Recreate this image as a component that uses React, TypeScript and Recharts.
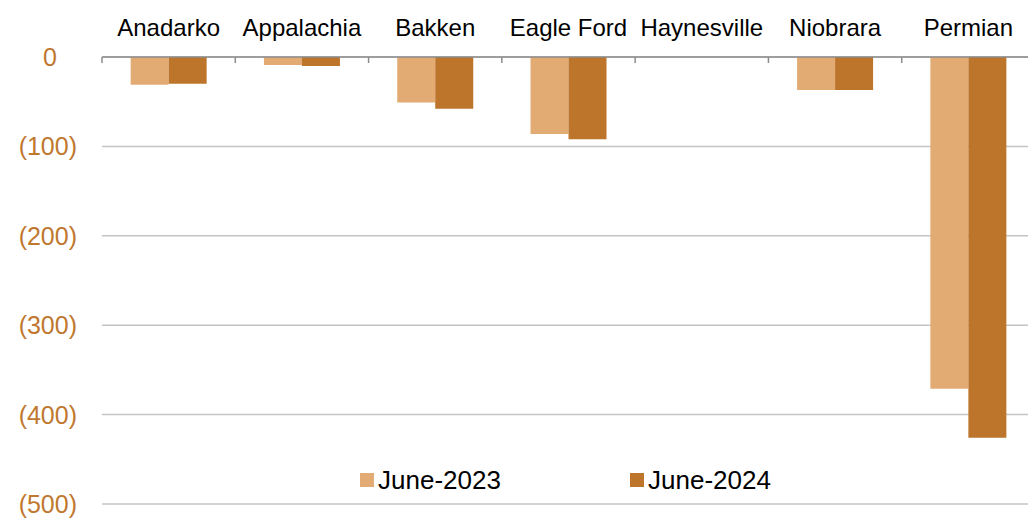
import { Bar, BarChart, CartesianGrid, XAxis, YAxis } from "recharts";

const basins = ["Anadarko", "Appalachia", "Bakken", "Eagle Ford", "Haynesville", "Niobrara", "Permian"];
const june2023 = [-31, -9, -51, -86, 0, -37, -371];
const june2024 = [-30, -10, -58, -92, 0, -37, -426];
const yTicks = [0, -100, -200, -300, -400, -500];

const LIGHT = "#E2AB74";
const DARK = "#BD742B";
const LABEL = "#C0782F";
const GRID = "#C4C4C4";

const WIDTH = 1028;
const HEIGHT = 519;
const Y_WIDTH = 102;
const RIGHT = -7;
const band = (WIDTH - Y_WIDTH - RIGHT) / basins.length;
const AXIS_Y = 57;

const data = basins.map((name, i) => ({ name, june2023: june2023[i], june2024: june2024[i] }));

function TopTick({ x, payload, index }: any) {
  const left = x - band / 2;
  return (
    <g>
      <text x={x} y={36} textAnchor="middle" fontSize={24} fill="#000">
        {payload.value}
      </text>
      <line x1={left} x2={left} y1={AXIS_Y} y2={AXIS_Y + 6} stroke="#8C8C8C" strokeWidth={1.5} />
      {index === basins.length - 1 && (
        <line x1={left + band} x2={left + band} y1={AXIS_Y} y2={AXIS_Y + 6} stroke="#8C8C8C" strokeWidth={1.5} />
      )}
    </g>
  );
}

// accounting style: zero sits left of the closing-paren column
function LeftTick({ y, payload }: any) {
  const v = payload.value as number;
  const zero = v === 0;
  return (
    <text x={zero ? 57 : 77} y={y} dy={9} textAnchor="end" fontSize={25} fill={LABEL}>
      {zero ? "0" : `(${Math.abs(v)})`}
    </text>
  );
}

const legendItems = [
  { label: "June-2023", color: LIGHT, left: 360 },
  { label: "June-2024", color: DARK, left: 630 },
];

export default function App() {
  return (
    <div style={{ position: "absolute", left: 0, top: 0, width: WIDTH, height: HEIGHT, overflow: "hidden", fontFamily: "'Liberation Sans', Arial, sans-serif" }}>
      <BarChart
        width={WIDTH}
        height={HEIGHT}
        data={data}
        margin={{ top: 0, right: RIGHT, bottom: 15, left: 0 }}
        barGap={0}
        barCategoryGap="21.5%"
        style={{ fontFamily: "'Liberation Sans', Arial, sans-serif" }}
      >
        <CartesianGrid horizontal vertical={false} stroke={GRID} strokeWidth={1.5} />
        <XAxis
          dataKey="name"
          orientation="top"
          height={AXIS_Y}
          axisLine={{ stroke: "#8C8C8C", strokeWidth: 1.5 }}
          tickLine={false}
          tick={<TopTick />}
          interval={0}
        />
        <YAxis
          domain={[-500, 0]}
          ticks={yTicks}
          width={Y_WIDTH}
          axisLine={false}
          tickLine={false}
          tick={<LeftTick />}
        />
        <Bar dataKey="june2023" name="June-2023" fill={LIGHT} isAnimationActive={false} />
        <Bar dataKey="june2024" name="June-2024" fill={DARK} isAnimationActive={false} />
      </BarChart>
      {legendItems.map((it) => (
        <div
          key={it.label}
          style={{ position: "absolute", left: it.left, top: 465, display: "flex", alignItems: "center", fontSize: 26, color: "#000", lineHeight: "30px" }}
        >
          <span style={{ width: 14, height: 14, background: it.color, marginRight: 4, display: "inline-block" }} />
          {it.label}
        </div>
      ))}
    </div>
  );
}
